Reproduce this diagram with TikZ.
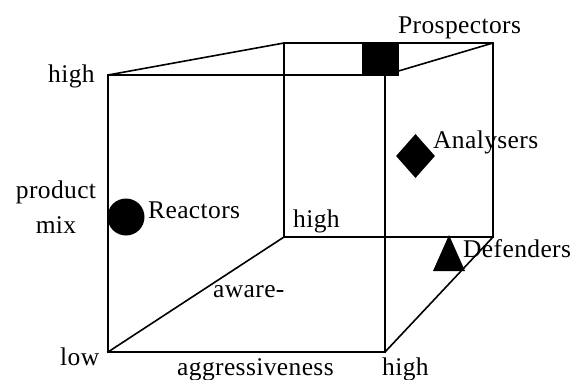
\documentclass[tikz,border=0pt]{standalone}
\usepackage{fontspec}
\setmainfont{Liberation Serif}[LetterSpace=1.5]
\usetikzlibrary{shapes.geometric}
\begin{document}
\begin{tikzpicture}[x=1pt,y=-1pt,
  edge/.style={line width=1.6pt, line join=miter, line cap=rect},
  lbl/.style={anchor=base west, inner sep=0pt, font=\fontsize{25.5}{30}\selectfont},
  clbl/.style={lbl, anchor=base},
  marker/.style={fill=black, draw=none, inner sep=0pt}]
\useasboundingbox (0,0) rectangle (571,380);
% cube corners
\coordinate (FTL) at (108,75);
\coordinate (FTR) at (385,75);
\coordinate (FBL) at (108,352);
\coordinate (FBR) at (385,352);
\coordinate (BTL) at (284,43);
\coordinate (BTR) at (493,43);
\coordinate (BBL) at (284,237);
\coordinate (BBR) at (493,237);
% labels
\node[lbl] (highTL) at (48,82) {high};
\node[clbl] (product) at (56,198) {product};
\node[clbl] (mix) at (56,233) {mix};
\node[lbl] (low) at (60,365) {low};
\node[lbl] (aggr) at (177,375) {aggressiveness};
\node[lbl] (highBR) at (382,375) {high};
\node[lbl] (aware) at (213,297) {aware-};
\node[lbl] (highM) at (293,227) {high};
\node[lbl] (reactors) at (148,218) {Reactors};
\node[lbl] (analysers) at (433,148) {Analysers};
\node[lbl] (defenders) at (463,257) {Defenders};
\node[lbl] (prospectors) at (398,33) {Prospectors};
% cube edges
\draw[edge] (FTL) -- (FTR) -- (FBR) -- (FBL) -- cycle;
\draw[edge] (BTL) -- (BTR) -- (BBR) -- (BBL) -- cycle;
\draw[edge] (FTL) -- (BTL);
\draw[edge] (FTR) -- (BTR);
\draw[edge] (FBL) -- (BBL);
\draw[edge] (FBR) -- (BBR);
% markers
\node[marker, circle, minimum size=37pt] (reactorM) at (126,217) {};
\node[marker, diamond, minimum width=39pt, minimum height=44pt] (analyserM) at (415.5,156) {};
\node[marker, rectangle, minimum width=37pt, minimum height=33pt] (prospectorM) at (380,59) {};
\coordinate (defA) at (449,235);
\coordinate (defB) at (433,271);
\coordinate (defC) at (465,271);
\fill (defA) -- (defB) -- (defC) -- cycle;
\end{tikzpicture}
\end{document}
